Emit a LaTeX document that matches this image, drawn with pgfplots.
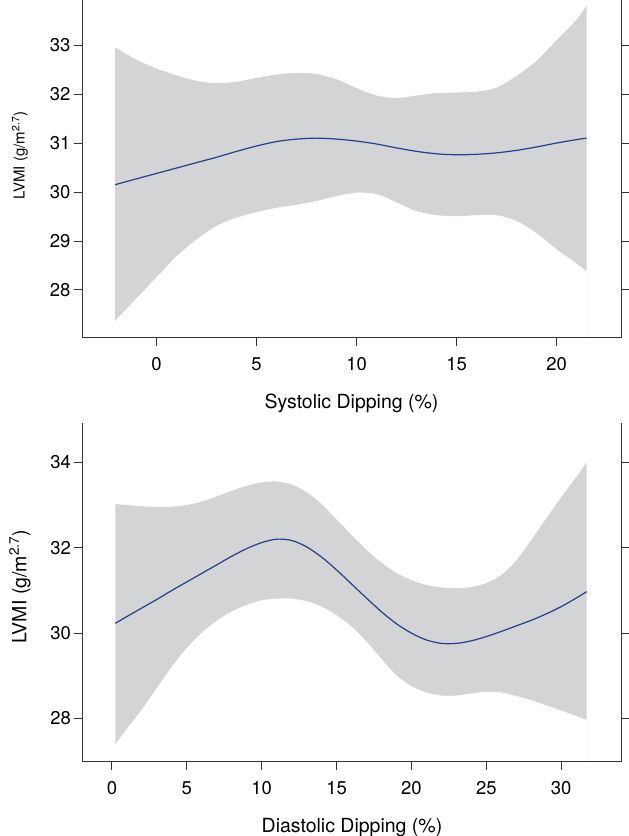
\documentclass[border=0pt]{standalone}
\usepackage{fontspec}
\setmainfont{TeX Gyre Heros}
\usepackage{pgfplots}
\pgfplotsset{compat=1.18}
\definecolor{band}{HTML}{D3D4D6}
\definecolor{navy}{HTML}{23408A}
\definecolor{axc}{HTML}{333333}
\pgfplotsset{
  base/.style={scale only axis, width=539pt, anchor=south west, axis on top,
    tick align=outside, major tick length=8pt,
    axis line style={axc, line width=1pt, -},
    tick style={axc, line width=1pt},
    /pgf/number format/assume math mode=true,
    ticklabel style={font=\fontsize{18.5}{21}\selectfont, text=black},
    xticklabel style={yshift=-8pt},
    xlabel style={font=\fontsize{19.5}{22}\selectfont, at={(axis description cs:0.5,0)}, anchor=base, yshift=-71pt},
    ylabel style={anchor=center},
  },
  mainax/.style={base, axis x line*=bottom, axis y line*=left},
  rightax/.style={base, axis y line*=right, axis x line=none, yticklabels={}},
}
\begin{document}
\begin{tikzpicture}
\useasboundingbox (0pt,0pt) rectangle (629pt,836pt);
% ---------- top panel ----------
\begin{axis}[mainax, at={(82pt,498pt)}, height=338pt,
  xmin=-3.73, xmax=23.22, ymin=27.02, ymax=33.92,
  xtick={0,5,10,15,20}, ytick={28,29,30,31,32,33},
  xlabel={Systolic Dipping (\%)},
  ylabel={LVMI (g/m\textsuperscript{2.7})},
  ylabel style={font=\fontsize{15}{18}\selectfont, at={(axis description cs:-0.115,0.54)}}]
\addplot[fill=band, draw=none, smooth] table {
-2.07 32.95
-1 32.70
0 32.52
1 32.38
2 32.27
3 32.22
4 32.25
5 32.33
6 32.40
7 32.43
8 32.41
9 32.30
10 32.12
11 31.97
12 31.92
13 31.97
14 32.02
15 32.03
16 32.05
17 32.13
18 32.37
19 32.68
20 33.10
21 33.52
21.5 33.81
} \closedcycle;
\addplot[fill=white, draw=white, line width=0.6pt, smooth] table {
-2.07 27.36
-1 27.82
0 28.25
1 28.68
2 29.02
3 29.30
4 29.47
5 29.58
6 29.67
7 29.73
8 29.81
9 29.91
10 29.98
11 29.95
12 29.78
13 29.60
14 29.52
15 29.50
16 29.52
17 29.52
18 29.40
19 29.15
20 28.82
21 28.53
21.5 28.37
} \closedcycle;
\addplot[navy, line width=1.2pt, smooth] table {
-2.07 30.15
-1 30.27
0 30.38
1 30.49
2 30.60
3 30.71
4 30.83
5 30.94
6 31.03
7 31.08
8 31.10
9 31.08
10 31.04
11 30.98
12 30.90
13 30.83
14 30.78
15 30.76
16 30.77
17 30.80
18 30.85
19 30.92
20 31.00
21 31.07
21.5 31.10
};
\draw[axc, line width=1pt] (rel axis cs:0,0) -- ++(-7pt,0pt);
\draw[axc, line width=1pt] (rel axis cs:0,0) -- ++(0pt,-8pt);
\end{axis}
\begin{axis}[rightax, at={(82pt,498pt)}, height=338pt,
  xmin=-3.73, xmax=23.22, ymin=27.02, ymax=33.92,
  ytick={28,29,30,31,32,33}]
\addplot[draw=none, forget plot] coordinates {(0,30) (10,31)};
\end{axis}
% ---------- bottom panel ----------
\begin{axis}[mainax, at={(82.5pt,74.3pt)}, height=338.7pt,
  xmin=-1.97, xmax=34.03, ymin=26.99, ymax=34.92,
  xtick={0,5,10,15,20,25,30}, ytick={28,30,32,34},
  xlabel={Diastolic Dipping (\%)},
  ylabel={LVMI (g/m\textsuperscript{2.7})},
  ylabel style={font=\fontsize{19.5}{22}\selectfont, at={(axis description cs:-0.116,0.516)}}]
\addplot[fill=band, draw=none, smooth] table {
0.22 33.02
1 33.0
2 32.97
3 32.95
4 32.96
5 33.00
6 33.08
7 33.20
8 33.33
9 33.45
10 33.53
11 33.55
12 33.48
13 33.30
14 33.02
15 32.66
16 32.30
17 31.95
18 31.65
19 31.41
20 31.24
21 31.13
22 31.07
23 31.05
24 31.08
25 31.17
26 31.36
27 31.70
28 32.18
29 32.68
30 33.18
31 33.65
31.7 34.00
} \closedcycle;
\addplot[fill=white, draw=white, line width=0.6pt, smooth] table {
0.22 27.38
1 27.75
2 28.20
3 28.70
4 29.20
5 29.64
6 30.00
7 30.28
8 30.50
9 30.65
10 30.76
11 30.80
12 30.80
13 30.74
14 30.61
15 30.41
16 30.14
17 29.79
18 29.38
19 29.00
20 28.75
21 28.60
22 28.53
23 28.53
24 28.58
25 28.62
26 28.60
27 28.52
28 28.42
29 28.30
30 28.18
31 28.05
31.7 27.96
} \closedcycle;
\addplot[navy, line width=1.2pt, smooth] table {
0.22 30.23
1 30.39
2 30.59
3 30.79
4 31.00
5 31.20
6 31.40
7 31.60
8 31.80
9 31.98
10 32.12
11 32.20
12 32.17
13 32.02
14 31.78
15 31.48
16 31.15
17 30.82
18 30.50
19 30.22
20 30.00
21 29.84
22 29.76
23 29.76
24 29.82
25 29.92
26 30.04
27 30.17
28 30.30
29 30.45
30 30.62
31 30.82
31.7 30.97
};
\end{axis}
\begin{axis}[rightax, at={(82.5pt,74.3pt)}, height=338.7pt,
  xmin=-1.97, xmax=34.03, ymin=26.99, ymax=34.92,
  ytick={28,30,32,34}]
\addplot[draw=none, forget plot] coordinates {(0,30) (10,31)};
\end{axis}
\end{tikzpicture}
\end{document}
